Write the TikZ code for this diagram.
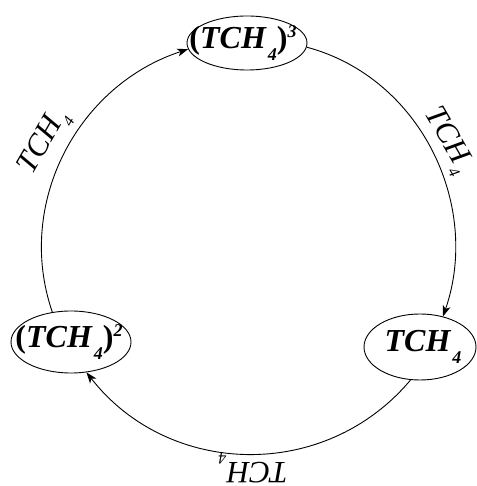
\documentclass[tikz,border=0pt]{standalone}
\usepackage{fontspec}
\setmainfont{Liberation Serif}
\usetikzlibrary{shapes.geometric,arrows.meta}
\newcommand{\nodefont}{\fontsize{32}{36}\selectfont\bfseries\itshape}
\newcommand{\labfont}{\fontsize{31}{36}\selectfont\itshape}
\newcommand{\mysub}[1]{\kern2pt\raisebox{-0.38em}{\fontsize{18}{18}\selectfont #1}}
\newcommand{\mysup}[1]{\raisebox{0.36em}{\fontsize{18}{18}\selectfont #1}}
\newcommand{\lsub}[1]{\kern1pt\raisebox{-0.3em}{\fontsize{16}{16}\selectfont #1}}
\newcommand{\lp}{{\upshape(}}
\newcommand{\rp}{{\upshape)}}
\begin{document}
\begin{tikzpicture}[x=1pt,y=1pt,
  state/.style={ellipse,draw,line width=0.9pt,inner sep=0pt},
  conn/.style={line width=0.9pt,-{Stealth[length=11pt,width=8pt,inset=3pt]}},
  lab/.style={font=\labfont,inner sep=0pt}]
\useasboundingbox (0,0) rectangle (476,486);
\node[state,minimum width=120pt,minimum height=54pt,
  label={[font=\nodefont,xshift=-4pt]center:{\lp TCH\mysub{4}\rp\mysup{3}}}] (T) at (247,443) {};
\node[state,minimum width=120pt,minimum height=62pt,
  label={[font=\nodefont,xshift=-2pt]center:{\lp TCH\mysub{4}\rp\mysup{2}}}] (L) at (71,144) {};
\node[state,minimum width=112pt,minimum height=66pt,
  label={[font=\nodefont,xshift=3pt]center:{TCH\mysub{4}}}] (R) at (420,139) {};
\draw[conn] (L.122) to[out=109,in=198] (T.186);
\draw[conn] (T.-4) to[out=-15,in=71] (R.53);
\draw[conn] (R.254) to[out=-130,in=-52,looseness=1.05] (L.-63);
\node[lab,rotate=-60] (l1) at (447,345) {TCH\lsub{4}};
\node[lab,rotate=60] (l2) at (45,343) {TCH\lsub{4}};
\node[lab,rotate=180] (l3) at (253,18) {TCH\lsub{4}};
\end{tikzpicture}
\end{document}
